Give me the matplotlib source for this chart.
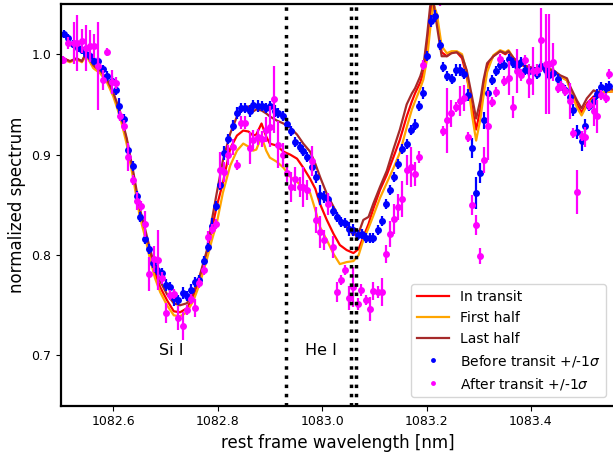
"""
He I 1083 nm transit spectrum: in-transit averages vs before/after transit.
"""

import matplotlib
matplotlib.use("Agg")
import matplotlib.pyplot as plt

# ── model / averaged spectra (lines) ──────────────────────────────────────────
wl_line = [1082.500, 1082.517, 1082.530, 1082.540, 1082.548, 1082.562, 1082.575, 1082.588, 1082.600, 1082.613,
           1082.626, 1082.638, 1082.651, 1082.661, 1082.670, 1082.680, 1082.690, 1082.703, 1082.716, 1082.728,
           1082.741, 1082.754, 1082.766, 1082.779, 1082.789, 1082.798, 1082.810, 1082.824, 1082.837, 1082.849,
           1082.859, 1082.868, 1082.874, 1082.884, 1082.893, 1082.900, 1082.913, 1082.926, 1082.939, 1082.952,
           1082.964, 1082.977, 1082.987, 1082.996, 1083.009, 1083.022, 1083.034, 1083.047, 1083.060, 1083.070,
           1083.079, 1083.089, 1083.098, 1083.111, 1083.124, 1083.137, 1083.149, 1083.162, 1083.172, 1083.178,
           1083.188, 1083.194, 1083.201, 1083.207, 1083.213, 1083.220, 1083.229, 1083.239, 1083.248, 1083.258,
           1083.268, 1083.277, 1083.287, 1083.295, 1083.303, 1083.309, 1083.316, 1083.328, 1083.341, 1083.351,
           1083.357, 1083.367, 1083.379, 1083.392, 1083.405, 1083.430, 1083.443, 1083.456, 1083.469, 1083.475,
           1083.488, 1083.497, 1083.507, 1083.520, 1083.528, 1083.539, 1083.556]

flux_in = [0.997, 0.993, 0.995, 0.993, 1.000, 0.988, 0.983, 0.974, 0.961, 0.941,
           0.914, 0.881, 0.842, 0.822, 0.802, 0.782, 0.768, 0.755, 0.744, 0.743,
           0.747, 0.760, 0.778, 0.802, 0.826, 0.848, 0.872, 0.906, 0.919, 0.924,
           0.923, 0.919, 0.920, 0.931, 0.918, 0.911, 0.909, 0.903, 0.900, 0.896,
           0.887, 0.876, 0.866, 0.851, 0.835, 0.821, 0.810, 0.805, 0.802, 0.806,
           0.818, 0.831, 0.846, 0.865, 0.880, 0.898, 0.915, 0.938, 0.953, 0.961,
           0.972, 0.982, 1.008, 1.040, 1.052, 1.035, 1.002, 0.998, 1.002, 1.002,
           0.996, 0.978, 0.948, 0.925, 0.945, 0.966, 0.988, 0.998, 1.003, 1.000,
           1.003, 0.995, 0.990, 0.987, 0.985, 0.985, 0.983, 0.978, 0.974, 0.966,
           0.950, 0.942, 0.951, 0.958, 0.958, 0.962, 0.963]

flux_first = [0.996, 0.992, 0.995, 0.992, 0.999, 0.986, 0.981, 0.972, 0.958, 0.938,
              0.910, 0.877, 0.838, 0.818, 0.797, 0.777, 0.763, 0.750, 0.740, 0.739,
              0.743, 0.755, 0.772, 0.795, 0.815, 0.831, 0.862, 0.889, 0.904, 0.911,
              0.908, 0.904, 0.905, 0.918, 0.904, 0.897, 0.893, 0.887, 0.878, 0.873,
              0.867, 0.862, 0.845, 0.828, 0.815, 0.801, 0.791, 0.793, 0.794, 0.800,
              0.815, 0.827, 0.839, 0.857, 0.872, 0.887, 0.902, 0.927, 0.945, 0.953,
              0.966, 0.975, 0.995, 1.025, 1.050, 1.040, 1.008, 1.001, 1.003, 1.003,
              1.000, 0.982, 0.940, 0.914, 0.935, 0.958, 0.982, 0.999, 1.004, 1.002,
              1.004, 0.996, 0.991, 0.988, 0.986, 0.986, 0.984, 0.978, 0.974, 0.965,
              0.947, 0.939, 0.949, 0.956, 0.957, 0.962, 0.963]

flux_last = [0.997, 0.993, 0.996, 0.993, 1.001, 0.989, 0.984, 0.975, 0.962, 0.943,
             0.916, 0.884, 0.846, 0.826, 0.807, 0.788, 0.774, 0.761, 0.752, 0.750,
             0.752, 0.763, 0.780, 0.804, 0.835, 0.861, 0.894, 0.921, 0.938, 0.946,
             0.948, 0.943, 0.945, 0.944, 0.941, 0.938, 0.934, 0.931, 0.927, 0.920,
             0.911, 0.903, 0.891, 0.878, 0.861, 0.848, 0.836, 0.828, 0.820, 0.822,
             0.835, 0.838, 0.851, 0.868, 0.884, 0.906, 0.925, 0.950, 0.961, 0.966,
             0.978, 0.988, 1.018, 1.048, 1.052, 1.028, 0.998, 0.998, 1.001, 1.002,
             0.998, 0.984, 0.958, 0.936, 0.954, 0.974, 0.991, 0.998, 1.003, 1.001,
             1.003, 0.996, 0.991, 0.988, 0.986, 0.986, 0.984, 0.979, 0.976, 0.968,
             0.954, 0.946, 0.956, 0.964, 0.962, 0.966, 0.965]

# ── before transit (blue points) ──────────────────────────────────────────────
wl_before = [1082.506, 1082.514, 1082.523, 1082.533, 1082.540, 1082.548, 1082.556, 1082.564, 1082.571, 1082.580,
             1082.588, 1082.597, 1082.605, 1082.612, 1082.621, 1082.629, 1082.637, 1082.645, 1082.651, 1082.661,
             1082.669, 1082.677, 1082.684, 1082.693, 1082.701, 1082.709, 1082.716, 1082.725, 1082.733, 1082.741,
             1082.749, 1082.757, 1082.765, 1082.773, 1082.781, 1082.789, 1082.797, 1082.805, 1082.813, 1082.820,
             1082.829, 1082.837, 1082.845, 1082.852, 1082.861, 1082.868, 1082.877, 1082.884, 1082.893, 1082.900,
             1082.910, 1082.916, 1082.925, 1082.932, 1082.940, 1082.948, 1082.957, 1082.964, 1082.972, 1082.980,
             1082.988, 1082.996, 1083.004, 1083.012, 1083.020, 1083.028, 1083.036, 1083.044, 1083.052, 1083.060,
             1083.068, 1083.076, 1083.084, 1083.091, 1083.098, 1083.107, 1083.114, 1083.123, 1083.130, 1083.138,
             1083.146, 1083.154, 1083.162, 1083.170, 1083.178, 1083.185, 1083.193, 1083.201, 1083.208, 1083.216,
             1083.225, 1083.232, 1083.240, 1083.248, 1083.256, 1083.264, 1083.272, 1083.279, 1083.287, 1083.295,
             1083.303, 1083.310, 1083.318, 1083.326, 1083.334, 1083.341, 1083.349, 1083.358, 1083.365, 1083.373,
             1083.381, 1083.389, 1083.397, 1083.404, 1083.412, 1083.420, 1083.428, 1083.435, 1083.443, 1083.451,
             1083.458, 1083.466, 1083.474, 1083.481, 1083.489, 1083.497, 1083.504, 1083.512, 1083.520, 1083.527,
             1083.535, 1083.543, 1083.550]

flux_before = [1.020, 1.016, 1.010, 1.006, 1.004, 1.000, 0.998, 0.993, 0.993, 0.985,
               0.978, 0.973, 0.964, 0.948, 0.935, 0.905, 0.889, 0.859, 0.838, 0.816,
               0.806, 0.792, 0.785, 0.782, 0.770, 0.768, 0.757, 0.755, 0.762, 0.759,
               0.765, 0.773, 0.775, 0.794, 0.808, 0.829, 0.849, 0.870, 0.902, 0.916,
               0.929, 0.941, 0.946, 0.946, 0.943, 0.949, 0.948, 0.948, 0.946, 0.948,
               0.943, 0.941, 0.938, 0.931, 0.924, 0.913, 0.908, 0.904, 0.898, 0.888,
               0.878, 0.860, 0.858, 0.856, 0.844, 0.838, 0.833, 0.832, 0.826, 0.825,
               0.820, 0.821, 0.817, 0.817, 0.817, 0.825, 0.834, 0.851, 0.865, 0.878,
               0.891, 0.906, 0.911, 0.925, 0.930, 0.948, 0.961, 0.998, 1.033, 1.038,
               1.009, 0.987, 0.978, 0.975, 0.984, 0.984, 0.980, 0.959, 0.907, 0.862,
               0.882, 0.934, 0.961, 0.974, 0.983, 0.989, 0.989, 0.995, 0.991, 0.988,
               0.992, 0.984, 0.983, 0.984, 0.980, 0.988, 0.984, 0.979, 0.981, 0.975,
               0.968, 0.964, 0.957, 0.944, 0.923, 0.914, 0.929, 0.948, 0.953, 0.960,
               0.967, 0.966, 0.968]

err_before = [0.004, 0.004, 0.004, 0.004, 0.004, 0.004, 0.004, 0.004, 0.004, 0.004,
              0.005, 0.005, 0.005, 0.008, 0.005, 0.005, 0.005, 0.005, 0.005, 0.005,
              0.005, 0.005, 0.005, 0.005, 0.006, 0.005, 0.008, 0.005, 0.006, 0.005,
              0.006, 0.005, 0.005, 0.005, 0.005, 0.008, 0.005, 0.005, 0.007, 0.005,
              0.005, 0.006, 0.005, 0.005, 0.006, 0.005, 0.006, 0.005, 0.005, 0.005,
              0.006, 0.005, 0.005, 0.005, 0.005, 0.005, 0.005, 0.005, 0.005, 0.005,
              0.006, 0.010, 0.006, 0.005, 0.005, 0.005, 0.005, 0.005, 0.007, 0.006,
              0.005, 0.005, 0.005, 0.005, 0.005, 0.005, 0.005, 0.005, 0.005, 0.005,
              0.005, 0.005, 0.005, 0.005, 0.005, 0.005, 0.006, 0.005, 0.006, 0.006,
              0.005, 0.005, 0.005, 0.005, 0.006, 0.006, 0.005, 0.006, 0.010, 0.016,
              0.010, 0.008, 0.006, 0.005, 0.005, 0.005, 0.005, 0.005, 0.005, 0.005,
              0.005, 0.005, 0.005, 0.005, 0.005, 0.005, 0.005, 0.005, 0.005, 0.005,
              0.005, 0.005, 0.005, 0.006, 0.007, 0.010, 0.006, 0.005, 0.005, 0.005,
              0.005, 0.005, 0.005]

# ── after transit (magenta points) ────────────────────────────────────────────
wl_after = [1082.504, 1082.514, 1082.524, 1082.531, 1082.540, 1082.548, 1082.556, 1082.564, 1082.571, 1082.580,
            1082.588, 1082.597, 1082.605, 1082.613, 1082.621, 1082.629, 1082.637, 1082.645, 1082.653, 1082.661,
            1082.669, 1082.678, 1082.685, 1082.693, 1082.701, 1082.709, 1082.717, 1082.725, 1082.733, 1082.741,
            1082.749, 1082.757, 1082.765, 1082.773, 1082.781, 1082.789, 1082.797, 1082.805, 1082.813, 1082.820,
            1082.829, 1082.837, 1082.845, 1082.852, 1082.861, 1082.868, 1082.877, 1082.884, 1082.893, 1082.900,
            1082.908, 1082.916, 1082.925, 1082.932, 1082.940, 1082.948, 1082.957, 1082.964, 1082.972, 1082.980,
            1082.988, 1082.996, 1083.004, 1083.012, 1083.020, 1083.028, 1083.036, 1083.044, 1083.052, 1083.059,
            1083.068, 1083.075, 1083.084, 1083.091, 1083.098, 1083.107, 1083.114, 1083.123, 1083.130, 1083.138,
            1083.146, 1083.154, 1083.162, 1083.170, 1083.178, 1083.185, 1083.193, 1083.201, 1083.208, 1083.216,
            1083.225, 1083.232, 1083.240, 1083.247, 1083.256, 1083.264, 1083.272, 1083.279, 1083.287, 1083.295,
            1083.303, 1083.310, 1083.318, 1083.326, 1083.334, 1083.341, 1083.349, 1083.358, 1083.365, 1083.373,
            1083.381, 1083.389, 1083.397, 1083.404, 1083.412, 1083.420, 1083.428, 1083.435, 1083.443, 1083.451,
            1083.458, 1083.466, 1083.474, 1083.481, 1083.489, 1083.497, 1083.504, 1083.512, 1083.520, 1083.527,
            1083.535, 1083.543, 1083.550]

flux_after = [0.994, 1.011, 1.011, 1.011, 1.013, 1.006, 1.008, 1.008, 0.988, 0.974,
              1.002, 0.972, 0.971, 0.938, 0.929, 0.898, 0.875, 0.854, 0.849, 0.831,
              0.781, 0.796, 0.795, 0.777, 0.742, 0.760, 0.761, 0.737, 0.729, 0.745,
              0.756, 0.747, 0.772, 0.785, 0.818, 0.826, 0.831, 0.885, 0.883, 0.900,
              0.908, 0.890, 0.932, 0.932, 0.907, 0.915, 0.918, 0.916, 0.925, 0.928,
              0.955, 0.910, 0.900, 0.882, 0.868, 0.876, 0.868, 0.868, 0.865, 0.894,
              0.835, 0.823, 0.815, 0.851, 0.808, 0.763, 0.775, 0.785, 0.757, 0.768,
              0.751, 0.765, 0.755, 0.746, 0.764, 0.763, 0.763, 0.801, 0.821, 0.836,
              0.848, 0.856, 0.885, 0.888, 0.881, 0.898, 0.989, 1.060, 1.075, 1.070,
              1.058, 0.924, 0.934, 0.941, 0.947, 0.953, 0.956, 0.918, 0.850, 0.830,
              0.799, 0.895, 0.929, 0.952, 0.962, 0.995, 0.973, 0.976, 0.947, 0.983,
              0.979, 0.994, 0.973, 0.983, 0.984, 1.014, 0.990, 0.990, 0.992, 0.966,
              0.968, 0.963, 0.953, 0.922, 0.863, 0.919, 0.918, 0.949, 0.943, 0.938,
              0.959, 0.956, 0.980]

err_after = [0.004, 0.006, 0.021, 0.028, 0.012, 0.023, 0.016, 0.012, 0.044, 0.010,
             0.004, 0.012, 0.006, 0.005, 0.005, 0.014, 0.005, 0.009, 0.005, 0.013,
             0.017, 0.013, 0.030, 0.006, 0.010, 0.005, 0.005, 0.012, 0.014, 0.005,
             0.005, 0.009, 0.005, 0.005, 0.006, 0.005, 0.005, 0.018, 0.010, 0.010,
             0.008, 0.005, 0.006, 0.006, 0.016, 0.010, 0.008, 0.008, 0.012, 0.020,
             0.033, 0.023, 0.012, 0.010, 0.015, 0.012, 0.010, 0.020, 0.010, 0.015,
             0.013, 0.016, 0.010, 0.011, 0.011, 0.010, 0.005, 0.005, 0.012, 0.020,
             0.006, 0.006, 0.005, 0.012, 0.009, 0.006, 0.014, 0.009, 0.013, 0.015,
             0.013, 0.018, 0.015, 0.020, 0.012, 0.006, 0.005, 0.010, 0.010, 0.010,
             0.010, 0.005, 0.032, 0.013, 0.005, 0.015, 0.013, 0.005, 0.010, 0.010,
             0.008, 0.013, 0.034, 0.005, 0.005, 0.005, 0.005, 0.017, 0.011, 0.022,
             0.006, 0.005, 0.017, 0.024, 0.006, 0.032, 0.050, 0.050, 0.019, 0.005,
             0.005, 0.005, 0.018, 0.005, 0.022, 0.005, 0.010, 0.005, 0.014, 0.016,
             0.005, 0.005, 0.005]

# He I triplet positions (dotted markers)
he_lines = [1082.931, 1083.0556, 1083.0645]


def plot_transit_spectrum():
    fig = plt.figure(figsize=(6.13, 4.54), dpi=100)
    ax = fig.add_axes([61 / 613, 48.3 / 454, 553.5 / 613, 401.7 / 454])

    ax.plot(wl_line, flux_in, color="red", lw=1.6, label="In transit")
    ax.plot(wl_line, flux_first, color="orange", lw=1.6, label="First half")
    ax.plot(wl_line, flux_last, color="brown", lw=1.6, label="Last half")

    ax.errorbar(wl_before, flux_before, yerr=err_before, fmt="none",
                ecolor="blue", elinewidth=1.6, capsize=0)
    ax.plot(wl_before, flux_before, "o", color="blue", ms=5, mew=0,
            label=r"Before transit +/-1$\sigma$")
    ax.errorbar(wl_after, flux_after, yerr=err_after, fmt="none",
                ecolor="magenta", elinewidth=1.6, capsize=0)
    ax.plot(wl_after, flux_after, "o", color="magenta", ms=5, mew=0,
            label=r"After transit +/-1$\sigma$")

    for wl in he_lines:
        ax.axvline(wl, color="black", ls=":", lw=2.5)

    ax.text(1082.711, 0.705, "Si I", fontsize=11.5, ha="center", va="center")
    ax.text(1082.998, 0.705, "He I", fontsize=11.5, ha="center", va="center")

    ax.set_xlim(1082.5, 1083.56)
    ax.set_ylim(0.65, 1.05)
    ax.set_xticks([1082.6, 1082.8, 1083.0, 1083.2, 1083.4])
    ax.set_yticks([0.7, 0.8, 0.9, 1.0])
    ax.tick_params(labelsize=9)
    for side in ax.spines.values():
        side.set_linewidth(1.6)

    ax.set_xlabel("rest frame wavelength [nm]", fontsize=12)
    ax.set_ylabel("normalized spectrum", fontsize=12)

    ax.legend(loc="lower right", fontsize=10, markerscale=0.7,
              handlelength=2.3, bbox_to_anchor=(0.9975, 0.004))

    fig.savefig("out.png", dpi=100)


if __name__ == "__main__":
    plot_transit_spectrum()
